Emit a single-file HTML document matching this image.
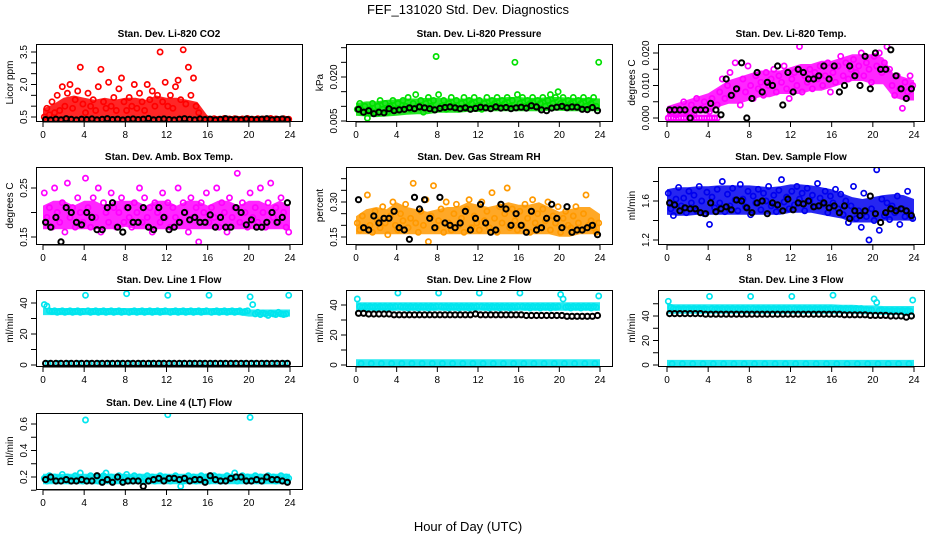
<!DOCTYPE html>
<html><head><meta charset="utf-8"><style>
html,body{margin:0;padding:0;background:#fff;}
svg text{font-family:"Liberation Sans",sans-serif;}
</style></head><body>
<svg id="chart" width="936" height="540" viewBox="0 0 936 540" xmlns="http://www.w3.org/2000/svg">
<text x="468" y="14" text-anchor="middle" font-size="13">FEF_131020  Std. Dev. Diagnostics</text>
<text x="468" y="531" text-anchor="middle" font-size="13">Hour of Day (UTC)</text>
</svg>
<script>
const xTicks = [0,4,8,12,16,20,24];

const co2Red = [0.5,0.9,0.6,1.2,0.7,1.5,0.8,1.9,1.0,1.6,2.0,0.9,1.3,1.7,2.8,1.1,
0.7,1.6,1.0,1.3,0.8,1.9,2.7,1.2,0.9,2.1,1.0,1.4,0.8,1.8,2.3,1.2,
0.8,1.4,1.0,2.0,0.9,1.6,1.2,0.8,2.0,1.3,1.7,1.0,1.5,3.5,1.2,2.1,
1.0,1.5,0.9,1.9,2.2,1.3,3.6,1.1,2.8,1.5,2.3,1.0,0.7,0.4,0.38,0.42,
0.4,0.36,0.42,0.38,0.4,0.37,0.43,0.39,0.41,0.36,0.42,0.4,0.38,0.41,0.37,0.43,0.39,0.4,0.36,0.42,0.38,0.41,0.4,0.37,0.43,0.39,0.41,0.38,0.4,0.42,0.37,0.4];
const co2Black = [0.38,0.36,0.4,0.37,0.42,0.39,0.36,0.4,0.38,0.41,0.37,0.39,0.42,0.38,0.4,0.36,0.39,0.41,0.38,0.4,0.43,0.37,0.39,0.41,0.38,0.36,0.4,0.42,0.39,0.37,0.41,0.38,0.4,0.36,0.39,0.42,0.38,0.4,0.37,0.41,0.39,0.38,0.4,0.42,0.37,0.39,0.41,0.38];
const co2BandLo = [0.35,0.35,0.35,0.35,0.35,0.35,0.35,0.35,0.35,0.35,0.35,0.35,0.35,0.35,0.35,0.35,0.33,0.33,0.33,0.33,0.33,0.33,0.33,0.33,0.33];
const co2BandHi = [0.8,1.0,1.3,1.4,1.3,1.2,1.3,1.2,1.3,1.3,1.2,1.4,1.3,1.3,1.2,1.1,0.46,0.45,0.45,0.45,0.45,0.45,0.45,0.45,0.45];

const presGreen = [0.009,0.011,0.008,0.010,0.006,0.009,0.011,0.008,0.010,0.012,0.009,0.011,0.008,0.010,0.012,0.009,
0.011,0.009,0.012,0.010,0.013,0.009,0.011,0.014,0.010,0.012,0.008,0.011,0.013,0.010,0.012,0.027,
0.014,0.010,0.012,0.009,0.011,0.013,0.010,0.012,0.009,0.011,0.013,0.010,0.012,0.011,0.013,0.010,
0.012,0.009,0.011,0.013,0.010,0.012,0.011,0.013,0.010,0.012,0.011,0.013,0.010,0.012,0.025,0.014,
0.011,0.013,0.010,0.012,0.011,0.013,0.010,0.012,0.011,0.013,0.010,0.012,0.014,0.011,0.013,0.015,
0.011,0.013,0.010,0.012,0.011,0.013,0.010,0.012,0.011,0.013,0.010,0.012,0.011,0.013,0.010,0.025];
const presBlack = [0.009,0.008,0.0085,0.0075,0.008,0.0078,0.0092,0.0085,0.0088,0.009,0.0095,0.0092,0.0098,0.0095,0.0092,0.0088,0.0093,0.0096,0.0098,0.0095,0.0092,0.0095,0.009,0.0093,0.0097,0.0095,0.0092,0.0098,0.0094,0.0096,0.0092,0.0095,0.0097,0.0094,0.0102,0.0098,0.0088,0.0085,0.0094,0.0097,0.01,0.0095,0.0098,0.0097,0.009,0.0089,0.0096,0.0085];
const presBandLo = [0.0075,0.0072,0.007,0.0072,0.0075,0.0078,0.008,0.008,0.0085,0.0085,0.0085,0.0088,0.0088,0.009,0.009,0.009,0.009,0.009,0.009,0.0092,0.0092,0.009,0.009,0.009,0.009];
const presBandHi = [0.0105,0.011,0.011,0.0115,0.0118,0.012,0.012,0.0122,0.0122,0.012,0.012,0.012,0.012,0.012,0.0122,0.0125,0.0125,0.0122,0.0122,0.0125,0.0125,0.0122,0.0122,0.0122,0.012];

const tempMag = [0.000,0.002,0.000,0.001,0.003,0.000,0.005,0.002,0.000,0.004,0.001,0.006,0.000,0.003,0.005,0.000,
0.002,0.006,0.000,0.004,0.008,0.012,0.006,0.010,0.014,0.007,0.017,0.009,0.004,0.012,0.008,0.016,
0.010,0.006,0.013,0.009,0.011,0.007,0.014,0.010,0.012,0.015,0.008,0.013,0.011,0.016,0.009,0.006,
0.012,0.014,0.010,0.022,0.008,0.013,0.011,0.015,0.009,0.014,0.012,0.016,0.010,0.013,0.017,0.008,
0.014,0.011,0.016,0.019,0.013,0.017,0.012,0.015,0.018,0.014,0.016,0.020,0.013,0.017,0.015,0.011,
0.019,0.016,0.020,0.014,0.017,0.022,0.015,0.010,0.007,0.013,0.009,0.003,0.011,0.008,0.013,0.010];
const tempZeros = [0,0,0,0,0,0,0,0,0,0,0,0,0,0,0,0,0,0,0,0];
const tempBlack = [0.0025,0.0025,0.0025,0.0025,0.000,0.0025,0.0025,0.0025,0.0045,0.0025,0.001,0.012,0.007,0.009,0.017,0.000,0.006,0.014,0.008,0.011,0.010,0.016,0.004,0.014,0.008,0.015,0.014,0.012,0.012,0.013,0.016,0.012,0.016,0.008,0.010,0.016,0.013,0.010,0.019,0.009,0.020,0.015,0.015,0.021,0.013,0.009,0.006,0.009];
const tempBandLo = [0.001,0.001,0.001,0.002,0.002,0.004,0.005,0.005,0.006,0.007,0.007,0.008,0.008,0.008,0.009,0.009,0.010,0.011,0.012,0.012,0.011,0.011,0.007,0.006,0.006];
const tempBandHi = [0.003,0.004,0.005,0.006,0.007,0.009,0.011,0.012,0.013,0.014,0.014,0.014,0.015,0.016,0.016,0.017,0.017,0.018,0.019,0.019,0.019,0.018,0.013,0.012,0.011];

const ambMag = [0.24,0.19,0.21,0.17,0.25,0.20,0.18,0.22,0.16,0.26,0.19,0.21,0.17,0.23,0.20,0.18,
0.27,0.21,0.17,0.23,0.19,0.25,0.16,0.22,0.20,0.18,0.24,0.21,0.17,0.20,0.23,0.18,
0.21,0.19,0.17,0.22,0.20,0.25,0.18,0.23,0.19,0.21,0.16,0.22,0.20,0.18,0.24,0.19,
0.22,0.17,0.21,0.19,0.25,0.18,0.22,0.20,0.16,0.23,0.19,0.21,0.14,0.22,0.20,0.24,
0.18,0.21,0.19,0.25,0.17,0.22,0.20,0.16,0.23,0.19,0.21,0.28,0.18,0.22,0.20,0.17,
0.24,0.19,0.21,0.18,0.25,0.20,0.17,0.22,0.26,0.19,0.21,0.18,0.23,0.20,0.17,0.16];
const ambBlack = [0.18,0.17,0.19,0.14,0.21,0.20,0.18,0.175,0.20,0.19,0.165,0.165,0.21,0.22,0.17,0.16,0.21,0.18,0.18,0.21,0.17,0.165,0.21,0.19,0.165,0.17,0.18,0.2,0.185,0.19,0.18,0.18,0.195,0.17,0.19,0.17,0.17,0.21,0.20,0.175,0.185,0.17,0.17,0.18,0.2,0.18,0.19,0.22];
const ambBandLo = [0.17,0.17,0.17,0.17,0.17,0.17,0.17,0.17,0.175,0.17,0.17,0.17,0.17,0.17,0.17,0.17,0.17,0.17,0.17,0.17,0.17,0.17,0.17,0.17,0.17];
const ambBandHi = [0.21,0.22,0.22,0.21,0.22,0.22,0.21,0.22,0.22,0.22,0.21,0.22,0.22,0.21,0.22,0.22,0.21,0.22,0.22,0.21,0.22,0.22,0.21,0.22,0.21];

const rhOrange = [0.21,0.18,0.24,0.19,0.33,0.20,0.17,0.26,0.22,0.19,0.28,0.21,0.16,0.24,0.30,0.20,
0.18,0.25,0.22,0.29,0.19,0.23,0.38,0.21,0.17,0.26,0.20,0.31,0.13,0.24,0.37,0.19,
0.22,0.27,0.17,0.30,0.21,0.18,0.25,0.29,0.20,0.23,0.17,0.27,0.31,0.19,0.24,0.21,
0.18,0.30,0.22,0.26,0.19,0.34,0.23,0.17,0.28,0.21,0.25,0.36,0.19,0.27,0.22,0.18,
0.26,0.20,0.29,0.23,0.17,0.31,0.21,0.25,0.19,0.27,0.22,0.30,0.18,0.24,0.21,0.28,
0.17,0.23,0.26,0.20,0.19,0.24,0.28,0.21,0.18,0.25,0.33,0.20,0.22,0.19,0.17,0.21];
const rhBlack = [0.31,0.19,0.18,0.24,0.21,0.23,0.23,0.26,0.19,0.18,0.14,0.32,0.27,0.31,0.23,0.19,0.32,0.21,0.20,0.19,0.21,0.26,0.18,0.23,0.29,0.21,0.17,0.18,0.29,0.27,0.20,0.25,0.20,0.17,0.26,0.18,0.19,0.23,0.29,0.23,0.19,0.28,0.17,0.18,0.18,0.19,0.20,0.16];
const rhBandLo = [0.17,0.17,0.17,0.17,0.17,0.17,0.17,0.17,0.17,0.17,0.17,0.17,0.17,0.17,0.17,0.17,0.17,0.17,0.17,0.17,0.16,0.16,0.17,0.17,0.17];
const rhBandHi = [0.23,0.26,0.27,0.26,0.29,0.27,0.26,0.25,0.26,0.27,0.27,0.29,0.28,0.27,0.28,0.29,0.28,0.28,0.29,0.27,0.25,0.26,0.27,0.27,0.24];

const flowBlue = [1.68,1.52,1.45,1.62,1.74,1.55,1.63,1.48,1.70,1.58,1.66,1.50,1.75,1.60,1.47,1.69,
1.36,1.64,1.53,1.72,1.58,1.80,1.49,1.67,1.55,1.73,1.61,1.50,1.77,1.62,1.54,1.70,
1.46,1.65,1.58,1.72,1.51,1.68,1.60,1.75,1.55,1.66,1.49,1.71,1.82,1.59,1.64,1.52,
1.70,1.56,1.75,1.62,1.68,1.50,1.73,1.60,1.66,1.54,1.78,1.63,1.57,1.70,1.48,1.65,
1.58,1.72,1.52,1.67,1.46,1.60,1.38,1.55,1.75,1.42,1.50,1.33,1.68,1.44,1.20,1.52,
1.40,1.92,1.30,1.62,1.45,1.58,1.41,1.55,1.48,1.65,1.36,1.52,1.44,1.70,1.47,1.42];
const flowBlack = [1.58,1.56,1.50,1.53,1.52,1.52,1.48,1.47,1.58,1.49,1.52,1.54,1.51,1.61,1.60,1.53,1.48,1.58,1.60,1.47,1.58,1.56,1.50,1.62,1.51,1.58,1.57,1.60,1.54,1.55,1.58,1.53,1.55,1.48,1.55,1.42,1.50,1.45,1.50,1.65,1.47,1.38,1.48,1.52,1.50,1.52,1.50,1.45];
const flowBandLo = [1.48,1.47,1.47,1.48,1.48,1.48,1.48,1.48,1.48,1.48,1.48,1.48,1.5,1.5,1.5,1.48,1.46,1.44,1.4,1.4,1.4,1.42,1.42,1.42,1.42];
const flowBandHi = [1.7,1.72,1.72,1.73,1.73,1.74,1.74,1.74,1.74,1.73,1.72,1.73,1.75,1.75,1.74,1.72,1.7,1.66,1.62,1.6,1.62,1.64,1.65,1.64,1.6];

const line1Cyan = [39,38,35,34.5,35,34,34.5,35,34,34.5,35,34,34.5,35,34,34.5,45,35,34,34.5,35,34,34.5,35,34,34.5,35,34,34.5,35,34,34.5,46,34,34.5,35,34,34.5,35,34,34.5,35,34,34.5,35,34,34.5,35,45,34,34.5,35,34,34.5,35,34,34.5,35,34,34.5,35,34,34.5,35,45,34,34.5,35,34,34.5,35,34,34.5,35,34,34.5,35,34,34.5,35,44,39,33,34,32.5,33.5,33,32,33.5,33,32.5,34,33,32.5,33,45];
const line1Zero = [1,1,1,1,1,1,1,1,1,1,1,1,1,1,1,1,1,1,1,1,1,1,1,1];
const line1Black = [1,1,1,1,1,1,1,1,1,1,1,1,1,1,1,1,1,1,1,1,1,1,1,1,1,1,1,1,1,1,1,1,1,1,1,1,1,1,1,1,1,1,1,1,1,1,1,1];
const line1BandLo = [33.5,33.5,33.5,33.5,33.5,33.5,33.5,33.5,33.5,33.5,33.5,33.5,33.5,33.5,33.5,33.5,33.5,33.5,33.5,33.5,32.5,32.5,32.5,32.5,32.5];
const line1BandHi = [35.5,35.5,35.5,35.5,35.5,35.5,35.5,35.5,35.5,35.5,35.5,35.5,35.5,35.5,35.5,35.5,35.5,35.5,35.5,35.5,34.5,34.5,34.5,34.5,34.5];

const line2Cyan = [44,39,38.5,39,38,39,38.5,39,38,39,38.5,39,38,39,38.5,39,48,39,38.5,39,38,39,38.5,39,38,39,38.5,39,38,39,38.5,39,48,39,38.5,39,38,39,38.5,39,38,39,38.5,39,38,39,38.5,39,48,39,38.5,39,38,39,38.5,39,38,39,38.5,39,38,39,38.5,39,48,39,38.5,39,38,39,38.5,39,38,39,38.5,39,38,39,38.5,39,47,44,38.5,39,38,39,38.5,39,38,39,38.5,39,38,39,38.5,46];
const line2Zero = [1,1,1,1,1,1,1,1,1,1,1,1,1,1,1,1,1,1,1,1,1,1,1,1];
const line2Black = [34.5,34.5,34,34,34,34,34,33.5,33.5,33.5,33.5,33.5,33.5,33.5,33.5,33.5,33.5,33.5,33.5,33.5,33.5,33.5,33.5,34,33.5,33.5,33.5,33.5,33.5,33.5,33.5,33.5,33.5,33,33,33,33,33,33,33,33,32.5,32.5,32.5,32.5,32.5,32.5,33];
const line2BandLo = [37.5,37.5,37.5,37.5,37.5,37.5,37.5,37.5,37.5,37.5,37.5,37.5,37.5,37.5,37.5,37.5,37.5,37.5,37.5,37.5,37.5,37.5,37.5,37.5,37.5];
const line2BandHi = [40.5,40.5,40.5,40.5,40.5,40.5,40.5,40.5,40.5,40.5,40.5,40.5,40.5,40.5,40.5,40.5,40.5,40.5,40.5,40.5,40.5,40.5,40.5,40.5,40.5];
const line2ZeroLo = [0,0,0,0,0,0,0,0,0,0,0,0,0,0,0,0,0,0,0,0,0,0,0,0,0];
const line2ZeroHi = [2.5,2.5,2.5,2.5,2.5,2.5,2.5,2.5,2.5,2.5,2.5,2.5,2.5,2.5,2.5,2.5,2.5,2.5,2.5,2.5,2.5,2.5,2.5,2.5,2.5];

const line3Cyan = [52,47,46,45.5,46,45,46,45.5,46,45,46,45.5,46,45,46,45.5,56,46,45.5,46,45,46,45.5,46,45,46,45.5,46,45,46,45.5,46,56,46,45.5,46,45,46,45.5,46,45,46,45.5,46,45,46,45.5,46,56,46,45.5,46,45,46,45.5,46,45,46,45.5,46,45,46,45.5,46,57,46,45.5,46,45,46,45.5,46,45,46,45.5,46,45,45.5,45,45,54,51,44.5,45,44,44.5,44,44.5,44,44.5,44,44.5,44,44.5,44,53];
const line3Zero = [1,1,1,1,1,1,1,1,1,1,1,1,1,1,1,1,1,1,1,1,1,1,1,1];
const line3Black = [42,42,42,42,42,42,42,41.5,41.5,41.5,41.5,41.5,41.5,41.5,41.5,41.5,41.5,41.5,41.5,41.5,41.5,41.5,41.5,41.5,41.5,41.5,41.5,41.5,41.5,41.5,41.5,41.5,41.5,41.5,41,41,41,41,41,40.5,40.5,40.5,40.5,40,40,40,39,40];
const line3BandLo = [43.5,43.5,43.5,43.5,43.5,43.5,43.5,43.5,43.5,43.5,43.5,43.5,43.5,43.5,43.5,43.5,43.5,43.5,43.5,43,43,42.5,42.5,42.5,42.5];
const line3BandHi = [48,48,48,48,48,48,48,48,48,48,48,48,48,48,48,48,48,47.5,47.5,47,47,46.5,46.5,46.5,46.5];
const line3ZeroLo = [0,0,0,0,0,0,0,0,0,0,0,0,0,0,0,0,0,0,0,0,0,0,0,0,0];
const line3ZeroHi = [2.5,2.5,2.5,2.5,2.5,2.5,2.5,2.5,2.5,2.5,2.5,2.5,2.5,2.5,2.5,2.5,2.5,2.5,2.5,2.5,2.5,2.5,2.5,2.5,2.5];

const line4Cyan = [0.19,0.17,0.21,0.18,0.20,0.17,0.19,0.22,0.18,0.20,0.17,0.19,0.21,0.18,0.23,0.17,0.63,0.19,0.21,0.18,0.20,0.17,0.19,0.21,0.23,0.18,0.20,0.17,0.19,0.21,0.18,0.20,0.22,0.17,0.19,0.21,0.18,0.20,0.17,0.19,0.21,0.18,0.20,0.17,0.19,0.21,0.18,0.20,0.67,0.17,0.19,0.21,0.18,0.13,0.17,0.19,0.21,0.18,0.20,0.17,0.19,0.21,0.18,0.20,0.17,0.19,0.21,0.18,0.20,0.17,0.19,0.21,0.18,0.20,0.23,0.17,0.19,0.21,0.18,0.20,0.65,0.19,0.21,0.18,0.20,0.17,0.19,0.21,0.18,0.20,0.17,0.19,0.21,0.18,0.20,0.19];
const line4Black = [0.18,0.20,0.17,0.17,0.18,0.17,0.17,0.18,0.17,0.17,0.21,0.16,0.18,0.16,0.20,0.16,0.17,0.17,0.17,0.13,0.17,0.18,0.19,0.17,0.19,0.19,0.18,0.19,0.17,0.18,0.18,0.16,0.21,0.18,0.17,0.17,0.19,0.20,0.20,0.17,0.17,0.18,0.17,0.20,0.18,0.18,0.17,0.16];
const line4BandLo = [0.16,0.16,0.16,0.16,0.16,0.16,0.16,0.16,0.16,0.16,0.16,0.16,0.16,0.16,0.16,0.16,0.16,0.16,0.16,0.16,0.16,0.16,0.16,0.16,0.16];
const line4BandHi = [0.21,0.21,0.21,0.21,0.21,0.21,0.21,0.21,0.21,0.21,0.21,0.21,0.21,0.21,0.21,0.21,0.21,0.21,0.21,0.21,0.21,0.21,0.21,0.21,0.21];

const panelTitles = ["Stan. Dev. Li-820 CO2","Stan. Dev. Li-820 Pressure","Stan. Dev. Li-820 Temp.","Stan. Dev. Amb. Box Temp.","Stan. Dev. Gas Stream RH","Stan. Dev. Sample Flow","Stan. Dev. Line 1 Flow","Stan. Dev. Line 2 Flow","Stan. Dev. Line 3 Flow","Stan. Dev. Line 4 (LT) Flow"];
const yTitles = ["Licor ppm","kPa","degrees C","degrees C","percent","ml/min","ml/min","ml/min","ml/min","ml/min"];
const yTickVals = [[0.5,1,1.5,2,2.5,3,3.5],[0.005,0.01,0.015,0.02,0.025,0.03],[0,0.005,0.01,0.015,0.02],[0.15,0.2,0.25],[0.15,0.2,0.25,0.3,0.35,0.4],[1.2,1.4,1.6,1.8],[0,10,20,30,40],[0,10,20,30,40],[0,10,20,30,40,50],[0.1,0.2,0.3,0.4,0.5,0.6]];
const yLabelVals = [[0.5,2,3.5],[0.005,0.02],[0,0.01,0.02],[0.15,0.25],[0.15,0.3],[1.2,1.6],[0,20,40],[0,20,40],[0,20,40],[0.2,0.4,0.6]];
const yLabelText = [["0.5","2.0","3.5"],["0.005","0.020"],["0.000","0.010","0.020"],["0.15","0.25"],["0.15","0.30"],["1.2","1.6"],["0","20","40"],["0","20","40"],["0","20","40"],["0.2","0.4","0.6"]];

const cols = [{l:36,r:302,x0:43,x24:290},{l:346,r:612,x0:356,x24:600},{l:658,r:924,x0:667,x24:914}];
const rows = [{t:44,b:121},{t:167,b:244},{t:290,b:366},{t:413,b:489}];
const yRef = [[0.5,117,3.5,52],[0.005,121,0.02,77],[0,118,0.02,53],[0.15,237,0.25,188],[0.15,237,0.3,202],[1.2,240,1.6,201],[0,365,40,303],[0,365,40,305],[0,365,40,316],[0.2,477,0.6,424]];
const panelBands = [
 [[co2BandLo,co2BandHi,'#ff0000','co2-cloud']],
 [[presBandLo,presBandHi,'#00e000','pressure-cloud']],
 [[tempBandLo,tempBandHi,'#ff00ff','temp-cloud']],
 [[ambBandLo,ambBandHi,'#ff00ff','amb-cloud']],
 [[rhBandLo,rhBandHi,'#ff9900','rh-cloud']],
 [[flowBandLo,flowBandHi,'#0000ee','flow-cloud']],
 [[line1BandLo,line1BandHi,'#00e5ee','line1-cloud']],
 [[line2BandLo,line2BandHi,'#00e5ee','line2-cloud'],[line2ZeroLo,line2ZeroHi,'#00e5ee','line2-zero-cloud']],
 [[line3BandLo,line3BandHi,'#00e5ee','line3-cloud'],[line3ZeroLo,line3ZeroHi,'#00e5ee','line3-zero-cloud']],
 [[line4BandLo,line4BandHi,'#00e5ee','line4-cloud']]
];
const panelSeries = [
 [[co2Red,'#ff0000','co2-red'],[co2Black,'#000','co2-black']],
 [[presGreen,'#00e000','pressure-green'],[presBlack,'#000','pressure-black']],
 [[tempMag,'#ff00ff','temp-magenta'],[tempZeros,'#ff00ff','temp-zero'],[tempBlack,'#000','temp-black']],
 [[ambMag,'#ff00ff','amb-magenta'],[ambBlack,'#000','amb-black']],
 [[rhOrange,'#ff9900','rh-orange'],[rhBlack,'#000','rh-black']],
 [[flowBlue,'#0000ee','flow-blue'],[flowBlack,'#000','flow-black']],
 [[line1Cyan,'#00e5ee','line1-cyan'],[line1Zero,'#00e5ee','line1-zero'],[line1Black,'#000','line1-black']],
 [[line2Cyan,'#00e5ee','line2-cyan'],[line2Zero,'#00e5ee','line2-zero'],[line2Black,'#000','line2-black']],
 [[line3Cyan,'#00e5ee','line3-cyan'],[line3Zero,'#00e5ee','line3-zero'],[line3Black,'#000','line3-black']],
 [[line4Cyan,'#00e5ee','line4-cyan'],[line4Black,'#000','line4-black']]
];

const svg = document.getElementById('chart');
const NS = 'http://www.w3.org/2000/svg';
function mk(tag, attrs, parent){const e=document.createElementNS(NS,tag);for(const k in attrs)e.setAttribute(k,attrs[k]);parent.appendChild(e);return e;}

panelSeries.forEach((series, p) => {
  const c = cols[p%3], r = rows[Math.floor(p/3)];
  const [v1,p1,v2,p2] = yRef[p];
  const yScale = v => p1 + (v - v1) * (p2 - p1) / (v2 - v1);
  const xScale = h => c.x0 + h * (c.x24 - c.x0) / 24;
  const g = mk('g', {}, svg);
  
  
  const clip = mk('clipPath', {id:'clip'+p}, g);
  mk('rect', {x:c.l, y:r.t, width:c.r-c.l, height:r.b-r.t}, clip);
  const marks = mk('g', {'clip-path':'url(#clip'+p+')'}, g);
  panelBands[p].forEach(([lo, hi, color, name]) => {
    const n = lo.length;
    const hOf = i => i * 24 / (n - 1);
    let pts = [];
    hi.forEach((v, i) => pts.push(xScale(hOf(i)).toFixed(1) + ',' + (yScale(v) - 2).toFixed(1)));
    for (let i = n - 1; i >= 0; i--) pts.push(xScale(hOf(i)).toFixed(1) + ',' + (yScale(lo[i]) + 2).toFixed(1));
    const poly = mk('polygon', {points: pts.join(' '), fill: color, 'fill-opacity': 0.85}, marks);
    
    
  });
  series.forEach(([vals, color, name]) => {
    const sg = mk('g', {}, marks);
    
    
    const n = vals.length;
    const span = (name === 'temp-zero') ? [0,5] : [0,24];
    const isBlack = color === '#000';
    vals.forEach((v, i) => {
      const h = span[0] + (i + 0.5) * (span[1] - span[0]) / n;
      const pt = mk('circle', {cx:xScale(h).toFixed(1), cy:yScale(v).toFixed(1), r:2.6, fill:'none', stroke:color, 'stroke-width': isBlack ? 2 : 1.7}, sg);
      
      
    });
  });
  const box = mk('rect', {x:c.l+0.5, y:r.t+0.5, width:c.r-c.l, height:r.b-r.t, fill:'none', stroke:'#000', 'stroke-width':1}, g);
  
  
  const t = mk('text', {x:(c.l+c.r)/2, y:r.t-7, 'text-anchor':'middle', 'font-size':10, 'font-weight':'bold'}, g);
  t.textContent = panelTitles[p];
  
  
  xTicks.forEach(h => {
    const x = xScale(h);
    mk('line', {x1:x, x2:x, y1:r.b+1, y2:r.b+6, stroke:'#000'}, g);
    const tl = mk('text', {x:x, y:r.b+17, 'text-anchor':'middle', 'font-size':10}, g);
    tl.textContent = h;
    
    
  });
  mk('line', {x1:xScale(0), x2:xScale(24), y1:r.b+1, y2:r.b+1, stroke:'#000'}, g);
  const ty = yTickVals[p].map(yScale);
  mk('line', {x1:c.l+0.5, x2:c.l+0.5, y1:Math.min(...ty), y2:Math.max(...ty), stroke:'#000'}, g);
  yTickVals[p].forEach(v => {
    const y = yScale(v);
    mk('line', {x1:c.l-5, x2:c.l, y1:y, y2:y, stroke:'#000'}, g);
  });
  yLabelVals[p].forEach((v, i) => {
    const y = yScale(v);
    const yl = mk('text', {x:0, y:0, 'text-anchor':'middle', 'font-size':10, transform:'translate('+(c.l-9)+','+y+') rotate(-90)'}, g);
    yl.textContent = yLabelText[p][i];
    
    
  });
  const yt = mk('text', {x:0, y:0, 'text-anchor':'middle', 'font-size':10, transform:'translate('+(c.l-23)+','+((r.t+r.b)/2)+') rotate(-90)'}, g);
  yt.textContent = yTitles[p];
  
  
});
</script>
</body></html>
